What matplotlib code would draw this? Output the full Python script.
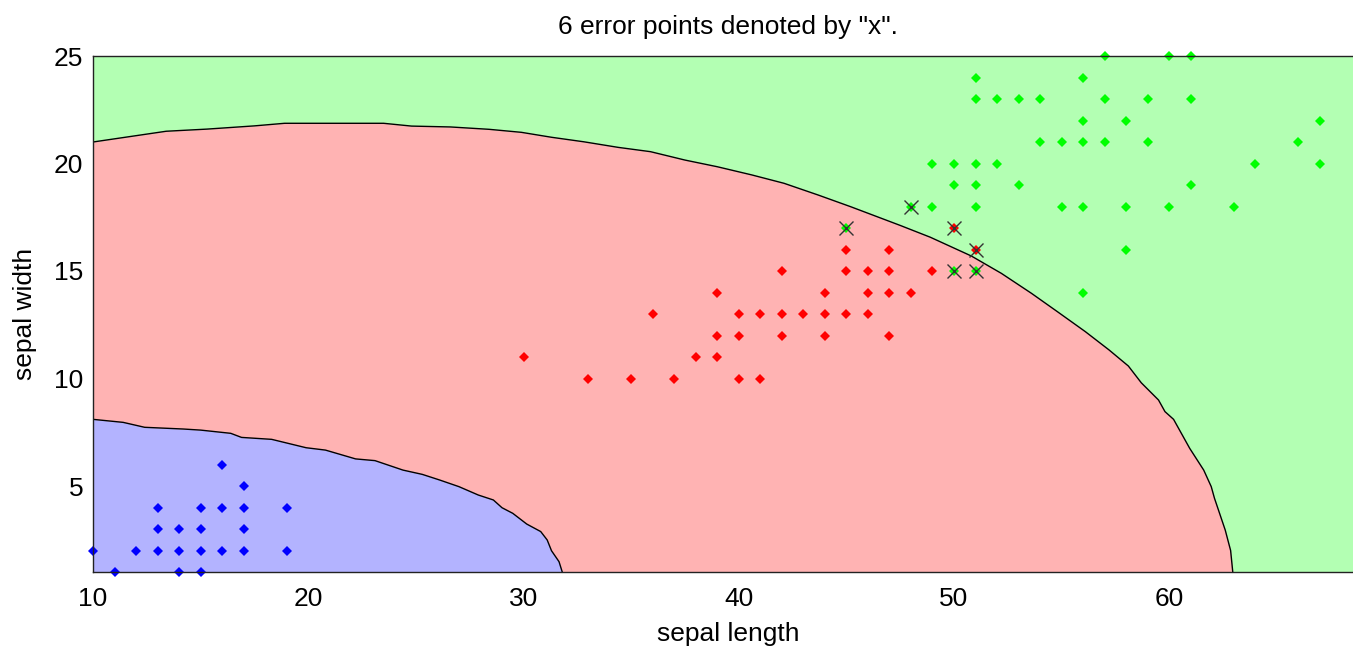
"""Decision regions of a three-class classifier on iris measurements."""

import matplotlib

matplotlib.use("Agg")
import matplotlib.pyplot as plt

plt.rcParams["font.family"] = ["Liberation Sans", "DejaVu Sans"]

# data points (x = length, y = width)
blue_x = [10, 11, 12, 13, 13, 13, 14, 14, 14, 15, 15, 15, 15, 16, 16, 16, 17, 17, 17, 17, 19, 19]
blue_y = [2, 1, 2, 2, 3, 4, 1, 2, 3, 1, 2, 3, 4, 2, 4, 6, 2, 3, 4, 5, 2, 4]

red_x = [30, 33, 35, 36, 37, 38, 39, 39, 39, 40, 40, 40, 41, 41, 42, 42, 42, 43,
         44, 44, 44, 45, 45, 45, 46, 46, 46, 47, 47, 47, 47, 48, 49, 50, 51]
red_y = [11, 10, 10, 13, 10, 11, 11, 12, 14, 10, 12, 13, 10, 13, 12, 13, 15, 13,
         12, 13, 14, 13, 15, 16, 13, 14, 15, 12, 14, 15, 16, 14, 15, 17, 16]

green_x = [45, 48, 49, 49, 50, 50, 50, 51, 51, 51, 51, 51, 51, 52, 52, 53, 53,
           54, 54, 55, 55, 56, 56, 56, 56, 56, 57, 57, 57, 58, 58, 58, 59, 59,
           60, 60, 61, 61, 61, 63, 64, 66, 67, 67]
green_y = [17, 18, 18, 20, 15, 19, 20, 15, 18, 19, 20, 23, 24, 20, 23, 19, 23,
           21, 23, 18, 21, 14, 18, 21, 22, 24, 21, 23, 25, 16, 18, 22, 21, 23,
           18, 25, 19, 23, 25, 18, 20, 21, 20, 22]

# misclassified points
err_x = [45, 48, 50, 50, 51, 51]
err_y = [17, 18, 15, 17, 15, 16]

# class boundaries
rg_x = [10.0, 13.4, 15.3, 17.5, 18.9, 23.5, 24.8, 26.6, 28.4, 29.9, 31.3, 32.8,
        34.4, 35.9, 37.5, 39.0, 40.6, 42.1, 43.7, 45.2, 47.5, 48.9, 50.8, 52.2,
        53.6, 54.8, 56.1, 57.2, 58.1, 58.7, 59.5, 59.8, 60.2, 60.95, 61.6, 61.95,
        62.1, 62.6, 62.85, 62.95]
rg_y = [21.0, 21.5, 21.6, 21.75, 21.87, 21.87, 21.74, 21.7, 21.59, 21.45, 21.22, 21.01,
        20.75, 20.55, 20.16, 19.85, 19.47, 19.08, 18.53, 17.99, 17.12, 16.57, 15.7, 14.89,
        13.96, 13.11, 12.18, 11.33, 10.58, 9.8, 9.0, 8.46, 8.1, 6.75, 5.74, 4.97,
        4.43, 2.95, 2.0, 1.0]

br_x = [10.0, 11.4, 12.4, 14.2, 15.0, 16.4, 16.9, 18.3, 19.9, 20.8, 22.2, 23.1, 24.4,
        25.3, 26.1, 27.0, 27.9, 28.6, 29.0, 29.5, 30.15, 30.8, 31.1, 31.3, 31.65, 31.8]
br_y = [8.1, 7.96, 7.73, 7.65, 7.6, 7.45, 7.26, 7.17, 6.78, 6.67, 6.26, 6.18, 5.74,
        5.54, 5.28, 4.97, 4.58, 4.35, 3.99, 3.73, 3.23, 2.88, 2.49, 1.99, 1.48, 1.0]

x_range = (10, 69)
y_range = (1, 25)

fig = plt.figure(figsize=(13.53, 6.49), dpi=100)
ax = fig.add_axes([93 / 1353, 1 - 572 / 649, 1270 / 1353, 516 / 649])
ax.set_facecolor("#b3ffb3")

ax.fill_between(rg_x, y_range[0], rg_y, color="#ffb3b3", lw=0)
ax.fill_between(br_x, y_range[0], br_y, color="#b3b3ff", lw=0)
ax.plot(rg_x, rg_y, color="black", lw=1.0)
ax.plot(br_x, br_y, color="black", lw=1.0)

dot = dict(ls="none", marker="D", ms=4.6, mew=0)
ax.plot(blue_x, blue_y, color="#0000ff", clip_on=False, **dot)
ax.plot(red_x, red_y, color="#ff0000", clip_on=False, **dot)
ax.plot(green_x, green_y, color="#00ff00", clip_on=False, **dot)
ax.plot(err_x, err_y, ls="none", marker="x", ms=10, mew=1.0, color="#333333")

ax.set_xlim(*x_range)
ax.set_ylim(*y_range)
ax.set_xticks([10, 20, 30, 40, 50, 60])
ax.set_yticks([5, 10, 15, 20, 25])
ax.tick_params(length=0, labelsize=19)
ax.tick_params(axis="x", pad=11)
ax.tick_params(axis="y", pad=7)
for spine in ax.spines.values():
    spine.set_color("#222222")
    spine.set_linewidth(1.0)

ax.set_title('6 error points denoted by "x".', fontsize=19, pad=16)
ax.set_xlabel("sepal length", fontsize=19, labelpad=8)
ax.set_ylabel("sepal width", fontsize=19, labelpad=12)

fig.savefig("out.png", dpi=100)
